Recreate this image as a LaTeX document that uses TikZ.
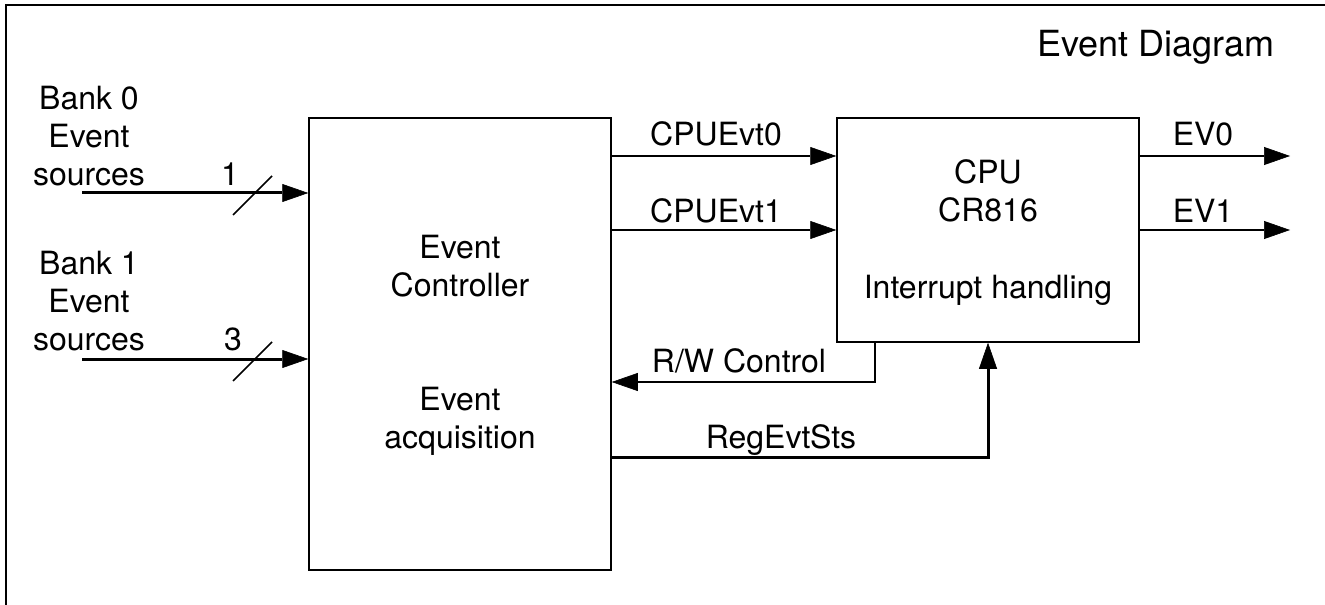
\documentclass[tikz,border=0pt]{standalone}
\usepackage{fontspec}
\setmainfont{TeX Gyre Heros}
\usetikzlibrary{arrows.meta, positioning}
\tikzset{
  lbl/.style={font=\fontsize{16}{19}\selectfont, align=center, anchor=base, inner sep=0pt},
  blk/.style={draw, line width=0.75pt, minimum width=151pt, inner sep=0pt},
  sig/.style={line width=0.75pt, -{Triangle[length=13pt, width=9pt, line width=0.3pt]}},
  bus/.style={sig, line width=1.5pt},
}

\begin{document}
\begin{tikzpicture}[x=0.5pt, y=-0.5pt]
  \useasboundingbox (0,0) rectangle (1325,604);
  \clip (0,0) rectangle (1325,604);
%% frame and title
  \draw[line width=1pt] (1400,5) -- (6,5) -- (6,700);
  \node[lbl, font=\fontsize{18}{22}\selectfont] (title) at (1156,57) {Event Diagram};
%% blocks
  \node[blk, minimum height=226pt] (ctrl) at (460,344) {};
  \node[blk, minimum height=112pt] (cpu) at (988,230) {};
  \node[lbl] (ctrltxt) at (460,296) {Event\\Controller};
  \node[lbl] (acqtxt) at (460,448) {Event\\acquisition};
  \node[lbl] (cputxt) at (988,221) {CPU\\CR816};
  \node[lbl] (irqtxt) at (988,298) {Interrupt handling};
%% event sources
  \node[lbl] (bank0) at (89,185) {Bank 0\\Event\\sources};
  \node[lbl] (bank1) at (89,350) {Bank 1\\Event\\sources};
  \coordinate (src0) at (82,193);
  \coordinate (src1) at (82,359);
  \draw[bus] (src0) -- (src0 -| ctrl.west);
  \draw[bus] (src1) -- (src1 -| ctrl.west);
  \coordinate (sl0) at (252,196);
  \coordinate (sl1) at (252,362);
  \draw[line width=0.75pt] ([shift={(-19,19)}]sl0) -- ([shift={(20,-20)}]sl0);
  \draw[line width=0.75pt] ([shift={(-19,19)}]sl1) -- ([shift={(20,-20)}]sl1);
  \node[lbl] (w0) at (230,185) {1};
  \node[lbl] (w1) at (233,350) {3};
%% cpu events
  \coordinate (e0) at (1290,156);
  \coordinate (e1) at (1290,230);
  \draw[sig] (ctrl.east |- e0) -- (cpu.west |- e0);
  \draw[sig, line width=1pt] (ctrl.east |- e1) -- (cpu.west |- e1);
  \node[lbl] (cpuevt0) at (716,146) {CPUEvt0};
  \node[lbl] (cpuevt1) at (716,222) {CPUEvt1};
  \draw[sig] (cpu.east |- e0) -- (e0);
  \draw[sig, line width=1pt] (cpu.east |- e1) -- (e1);
  \node[lbl] (ev0) at (1203,146) {EV0};
  \node[lbl] (ev1) at (1203,222) {EV1};
%% control and status
  \coordinate (rw) at (875,382);
  \draw[sig] (cpu.south -| rw) -- (rw) -- (ctrl.east |- rw);
  \node[lbl] (rwtxt) at (739,372) {R/W Control};
  \coordinate (rs) at (988,457);
  \draw[bus] (ctrl.east |- rs) -- (rs) -- (cpu.south);
  \node[lbl] (rstxt) at (781,448) {RegEvtSts};
\end{tikzpicture}
\end{document}
